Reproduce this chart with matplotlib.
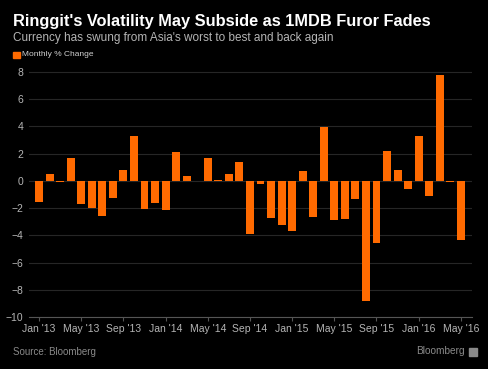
import matplotlib.pyplot as plt
import numpy as np

# monthly % change of the ringgit, Jan 2013 - May 2016
months = ['Jan 13', 'Feb 13', 'Mar 13', 'Apr 13', 'May 13', 'Jun 13', 'Jul 13', 'Aug 13',
          'Sep 13', 'Oct 13', 'Nov 13', 'Dec 13',
          'Jan 14', 'Feb 14', 'Mar 14', 'Apr 14', 'May 14', 'Jun 14', 'Jul 14', 'Aug 14',
          'Sep 14', 'Oct 14', 'Nov 14', 'Dec 14',
          'Jan 15', 'Feb 15', 'Mar 15', 'Apr 15', 'May 15', 'Jun 15', 'Jul 15', 'Aug 15',
          'Sep 15', 'Oct 15', 'Nov 15', 'Dec 15',
          'Jan 16', 'Feb 16', 'Mar 16', 'Apr 16', 'May 16']
change = [-1.55, 0.5, -0.12, 1.7, -1.73, -2.02, -2.56, -1.29, 0.78, 3.3, -2.1, -1.61,
          -2.15, 2.15, 0.34, 0.0, 1.65, 0.05, 0.5, 1.4, -3.93, -0.24, -2.76, -3.25,
          -3.68, 0.71, -2.68, 3.98, -2.88, -2.83, -1.36, -8.79, -4.54, 2.22, 0.81, -0.63,
          3.3, -1.12, 7.77, -0.1, -4.35]
tick_labels = ["Jan '13", "May '13", "Sep '13", "Jan '14", "May '14", "Sep '14",
               "Jan '15", "May '15", "Sep '15", "Jan '16", "May '16"]

orange = '#ff6a00'
plt.rcParams['font.family'] = ['Liberation Sans', 'DejaVu Sans']

fig = plt.figure(figsize=(4.88, 3.69), dpi=100, facecolor='black')
ax = fig.add_axes([0.0594, 0.1409, 0.9076, 0.679], facecolor='black')

x = np.arange(len(change))
ax.bar(x, change, width=0.75, color=orange, zorder=3)

ax.set_xlim(-0.95, 41.05)
ax.set_ylim(-10, 8.4)
ax.set_yticks(range(-10, 9, 2))
ax.set_xticks(x[::4])
ax.set_xticklabels(tick_labels)
ax.yaxis.grid(True, color='#262626', linewidth=0.8, zorder=0)

for s in ['top', 'right', 'left']:
    ax.spines[s].set_visible(False)
ax.spines['bottom'].set_color('#555555')
ax.spines['bottom'].set_linewidth(0.8)
ax.tick_params(axis='x', colors='#555555', length=3, width=0.8, pad=2,
               labelcolor='#b5b5b5', labelsize=7.5)
ax.tick_params(axis='y', length=0, pad=4, labelcolor='#b5b5b5', labelsize=7.5)

fig.text(0.027, 0.943, "Ringgit's Volatility May Subside as 1MDB Furor Fades",
         color='white', fontsize=11.8, fontweight='bold', va='center')
fig.text(0.027, 0.898, "Currency has swung from Asia's worst to best and back again",
         color='#b5b5b5', fontsize=8.5, va='center')
fig.patches.append(plt.Rectangle((0.027, 0.842), 0.014, 0.018, color=orange,
                                 transform=fig.transFigure, figure=fig))
fig.text(0.046, 0.851, 'Monthly % Change', color='#d0d0d0', fontsize=6, va='center')

fig.text(0.027, 0.046, 'Source: Bloomberg', color='#8a8a8a', fontsize=7, va='center')
fig.text(0.953, 0.048, 'Bloomberg', color='#8a8a8a', fontsize=7.3, va='center', ha='right')
fig.patches.append(plt.Rectangle((0.961, 0.036), 0.016, 0.022, color='#8a8a8a',
                                 transform=fig.transFigure, figure=fig))

fig.savefig('out.png', dpi=100, facecolor='black')
